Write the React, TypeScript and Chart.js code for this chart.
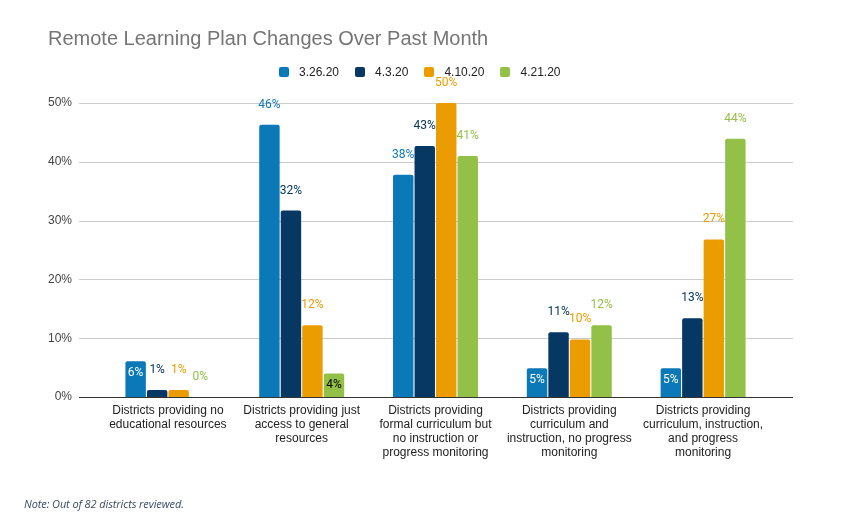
import React, { useEffect, useRef } from "react";
import { Chart, registerables } from "chart.js";

Chart.register(...registerables);

const categories: string[][] = [
  ["Districts providing no", "educational resources"],
  ["Districts providing just", "access to general", "resources"],
  ["Districts providing", "formal curriculum but", "no instruction or", "progress monitoring"],
  ["Districts providing", "curriculum and", "instruction, no progress", "monitoring"],
  ["Districts providing", "curriculum, instruction,", "and progress", "monitoring"],
];

const seriesNames = ["3.26.20", "4.3.20", "4.10.20", "4.21.20"];
const seriesColors = ["#0b78b8", "#073763", "#eb9c00", "#93c047"];

const values_3_26 = [6.1, 46.3, 37.8, 4.9, 4.9];
const values_4_3 = [1.2, 31.7, 42.7, 11.0, 13.4];
const values_4_10 = [1.2, 12.2, 50.0, 9.8, 26.8];
const values_4_21 = [0.0, 4.0, 41.0, 12.2, 43.9];

const seriesValues = [values_3_26, values_4_3, values_4_10, values_4_21];

const yTicks = [0, 10, 20, 30, 40, 50];

const GRID_LEFT = 79;
const GRID_RIGHT = 793;

// Horizontal gridlines and baseline that run a little past the bar area
const gridPlugin = {
  id: "wideGrid",
  beforeDatasetsDraw(chart: any) {
    const { ctx } = chart;
    const y = chart.scales.y;
    ctx.save();
    yTicks.forEach((t) => {
      const py = Math.round(y.getPixelForValue(t)) + 0.5;
      ctx.beginPath();
      ctx.strokeStyle = t === 0 ? "#333333" : "#cccccc";
      ctx.lineWidth = 1;
      ctx.moveTo(GRID_LEFT, py);
      ctx.lineTo(GRID_RIGHT, py);
      ctx.stroke();
    });
    ctx.restore();
  },
};

// Percentage labels on each bar
const valueLabelPlugin = {
  id: "valueLabels",
  afterDatasetsDraw(chart: any) {
    const { ctx } = chart;
    ctx.save();
    ctx.font = "12px Roboto";
    ctx.textAlign = "center";
    ctx.textBaseline = "middle";
    chart.data.datasets.forEach((ds: any, di: number) => {
      const meta = chart.getDatasetMeta(di);
      meta.data.forEach((bar: any, i: number) => {
        const v = ds.data[i] as number;
        const text = Math.round(v) + "%";
        const inside = v >= 3 && v < 7;
        if (inside) {
          ctx.fillStyle = di === 3 ? "#000000" : "#ffffff";
          ctx.fillText(text, bar.x, bar.y + 12);
        } else {
          ctx.fillStyle = seriesColors[di];
          ctx.fillText(text, bar.x, bar.y - 20);
        }
      });
    });
    ctx.restore();
  },
};

export default function App() {
  const canvasRef = useRef<HTMLCanvasElement | null>(null);

  useEffect(() => {
    if (!canvasRef.current) return;
    const chart = new Chart(canvasRef.current, {
      type: "bar",
      data: {
        labels: categories,
        datasets: seriesNames.map((name, i) => ({
          label: name,
          data: seriesValues[i],
          backgroundColor: seriesColors[i],
          borderRadius: 2,
          borderSkipped: "start",
          categoryPercentage: 0.643,
          barPercentage: 0.95,
        })),
      },
      options: {
        responsive: false,
        animation: false,
        layout: { padding: { left: 0, right: 93, top: 103, bottom: 0 } },
        plugins: {
          legend: { display: false },
          title: { display: false },
          tooltip: { enabled: false },
        },
        scales: {
          x: {
            grid: { display: false, drawTicks: false },
            border: { display: false },
            ticks: {
              padding: 7,
              color: "#222222",
              maxRotation: 0,
              autoSkip: false,
              font: { family: "'Liberation Sans', Arial, sans-serif", size: 12, lineHeight: "14px" },
            },
            afterFit(axis: any) {
              axis.height = 132;
            },
          },
          y: {
            min: 0,
            max: 50,
            grid: { display: false, drawTicks: false },
            border: { display: false },
            ticks: {
              stepSize: 10,
              padding: 29,
              color: "#444444",
              font: { family: "'Liberation Sans', Arial, sans-serif", size: 12 },
              callback: (v: any) => v + "%",
            },
            afterFit(axis: any) {
              axis.width = 101;
            },
          },
        },
      },
      plugins: [gridPlugin, valueLabelPlugin],
    });
    return () => chart.destroy();
  }, []);

  return (
    <div
      style={{
        position: "fixed",
        left: 0,
        top: 0,
        width: 863,
        height: 529,
        background: "#ffffff",
        fontFamily: "'Liberation Sans', Arial, sans-serif",
      }}
    >
      <canvas ref={canvasRef} width={863} height={529} style={{ position: "absolute", left: 0, top: 0 }} />
      <div
        style={{
          position: "absolute",
          left: 48,
          top: 26,
          fontSize: 20,
          color: "#757575",
          whiteSpace: "nowrap",
          lineHeight: "24px",
        }}
      >
        Remote Learning Plan Changes Over Past Month
      </div>
      <div
        style={{
          position: "absolute",
          left: 279,
          top: 64,
          display: "flex",
          alignItems: "center",
          height: 16,
          fontSize: 12,
          color: "#222222",
          whiteSpace: "nowrap",
        }}
      >
        {seriesNames.map((name, i) => (
          <div key={name} style={{ display: "flex", alignItems: "center", marginRight: 16 }}>
            <span
              style={{
                display: "inline-block",
                width: 10,
                height: 10,
                borderRadius: 2,
                background: seriesColors[i],
                marginRight: 10,
              }}
            />
            <span>{name}</span>
          </div>
        ))}
      </div>
      <div
        style={{
          position: "absolute",
          left: 24,
          top: 496,
          fontSize: 11,
          fontStyle: "italic",
          color: "#3b4a63",
          whiteSpace: "nowrap",
          fontFamily: "'Open Sans', sans-serif",
          letterSpacing: "-0.1px",
        }}
      >
        Note: Out of 82 districts reviewed.
      </div>
    </div>
  );
}
